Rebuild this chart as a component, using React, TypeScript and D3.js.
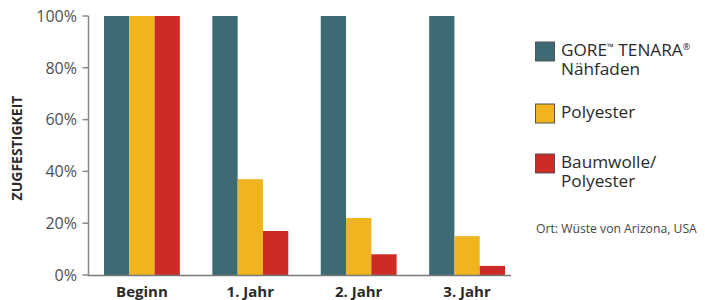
import React from "react";
import * as d3 from "d3";

const categories = ["Beginn", "1. Jahr", "2. Jahr", "3. Jahr"];
const seriesNames = ["GORE™ TENARA® Nähfaden", "Polyester", "Baumwolle/ Polyester"];
const gore = [100, 100, 100, 100];
const polyester = [100, 37, 22, 15];
const baumwolle = [100, 17, 8, 3.5];
const yTicks = [0, 20, 40, 60, 80, 100];
const colors = ["#3e6a73", "#f0b41e", "#cc2b28"];

export default function App() {
  const W = 705, H = 300;
  const axisX = 88.5;
  const y = d3.scaleLinear().domain([0, 100]).range([275, 16]);
  const x0 = d3.scaleBand().domain(categories).range([104, 505]).paddingInner(0.3).paddingOuter(0);
  const x1 = d3.scaleBand().domain(seriesNames).range([0, x0.bandwidth()]).padding(0);
  const values = [gore, polyester, baumwolle];
  const font = "'Open Sans', sans-serif";
  const tops = [42, 104, 154];
  const tx = 561;
  const lf = 17.2;
  return (
    <svg width={W} height={H} style={{ position: "absolute", left: 0, top: 0 }} fontFamily={font}>
      <rect width={W} height={H} fill="#fff" />
      {categories.map((c, ci) =>
        seriesNames.map((s, si) => (
          <rect key={c + s} x={x0(c)! + x1(s)!} y={y(values[si][ci])} width={x1.bandwidth()}
            height={y(0) - y(values[si][ci])} fill={colors[si]} />
        ))
      )}
      <line x1={axisX} x2={axisX} y1={y(100)} y2={y(0)} stroke="#8a8a8a" strokeWidth={1.5} />
      <line x1={axisX - 0.75} x2={511} y1={y(0) + 0.5} y2={y(0) + 0.5} stroke="#7a7a7a" strokeWidth={1.5} />
      {yTicks.map(t => (
        <g key={t}>
          <line x1={axisX - 6} x2={axisX} y1={y(t)} y2={y(t)} stroke="#8a8a8a" strokeWidth={1.5} />
          <text x={77} y={y(t)} dy="0.36em" textAnchor="end" fontSize={16} fill="#505050" fontWeight={400}>{t}%</text>
        </g>
      ))}
      {categories.map(c => (
        <text key={c} x={x0(c)! + x0.bandwidth() / 2} y={297} textAnchor="middle" fontSize={15} fontWeight={700} fill="#2a2a2a">{c}</text>
      ))}
      <text transform={`translate(22,148) rotate(-90)`} textAnchor="middle" fontSize={14} fontWeight={700} fill="#2a2a2a">ZUGFESTIGKEIT</text>
      {colors.map((col, i) => (
        <rect key={i} x={535.5} y={tops[i]} width={19} height={19} fill={col} stroke="#555" strokeWidth={1} />
      ))}
      <text x={tx} y={tops[0] + 13.5} fontSize={lf} fill="#2a2a2a">
        <tspan>GORE</tspan>
        <tspan fontSize={9} dy={-6}>™</tspan>
        <tspan dy={6}> TENARA</tspan>
        <tspan fontSize={9} dy={-6}>®</tspan>
        <tspan x={tx} dy={25}>Nähfaden</tspan>
      </text>
      <text x={tx} y={tops[1] + 13.5} fontSize={lf} fill="#2a2a2a">Polyester</text>
      <text x={tx} y={tops[2] + 13.5} fontSize={lf} fill="#2a2a2a">
        <tspan>Baumwolle/</tspan>
        <tspan x={tx} dy={19}>Polyester</tspan>
      </text>
      <text x={536} y={233} fontSize={12.2} fill="#444">Ort: Wüste von Arizona, USA</text>
    </svg>
  );
}
